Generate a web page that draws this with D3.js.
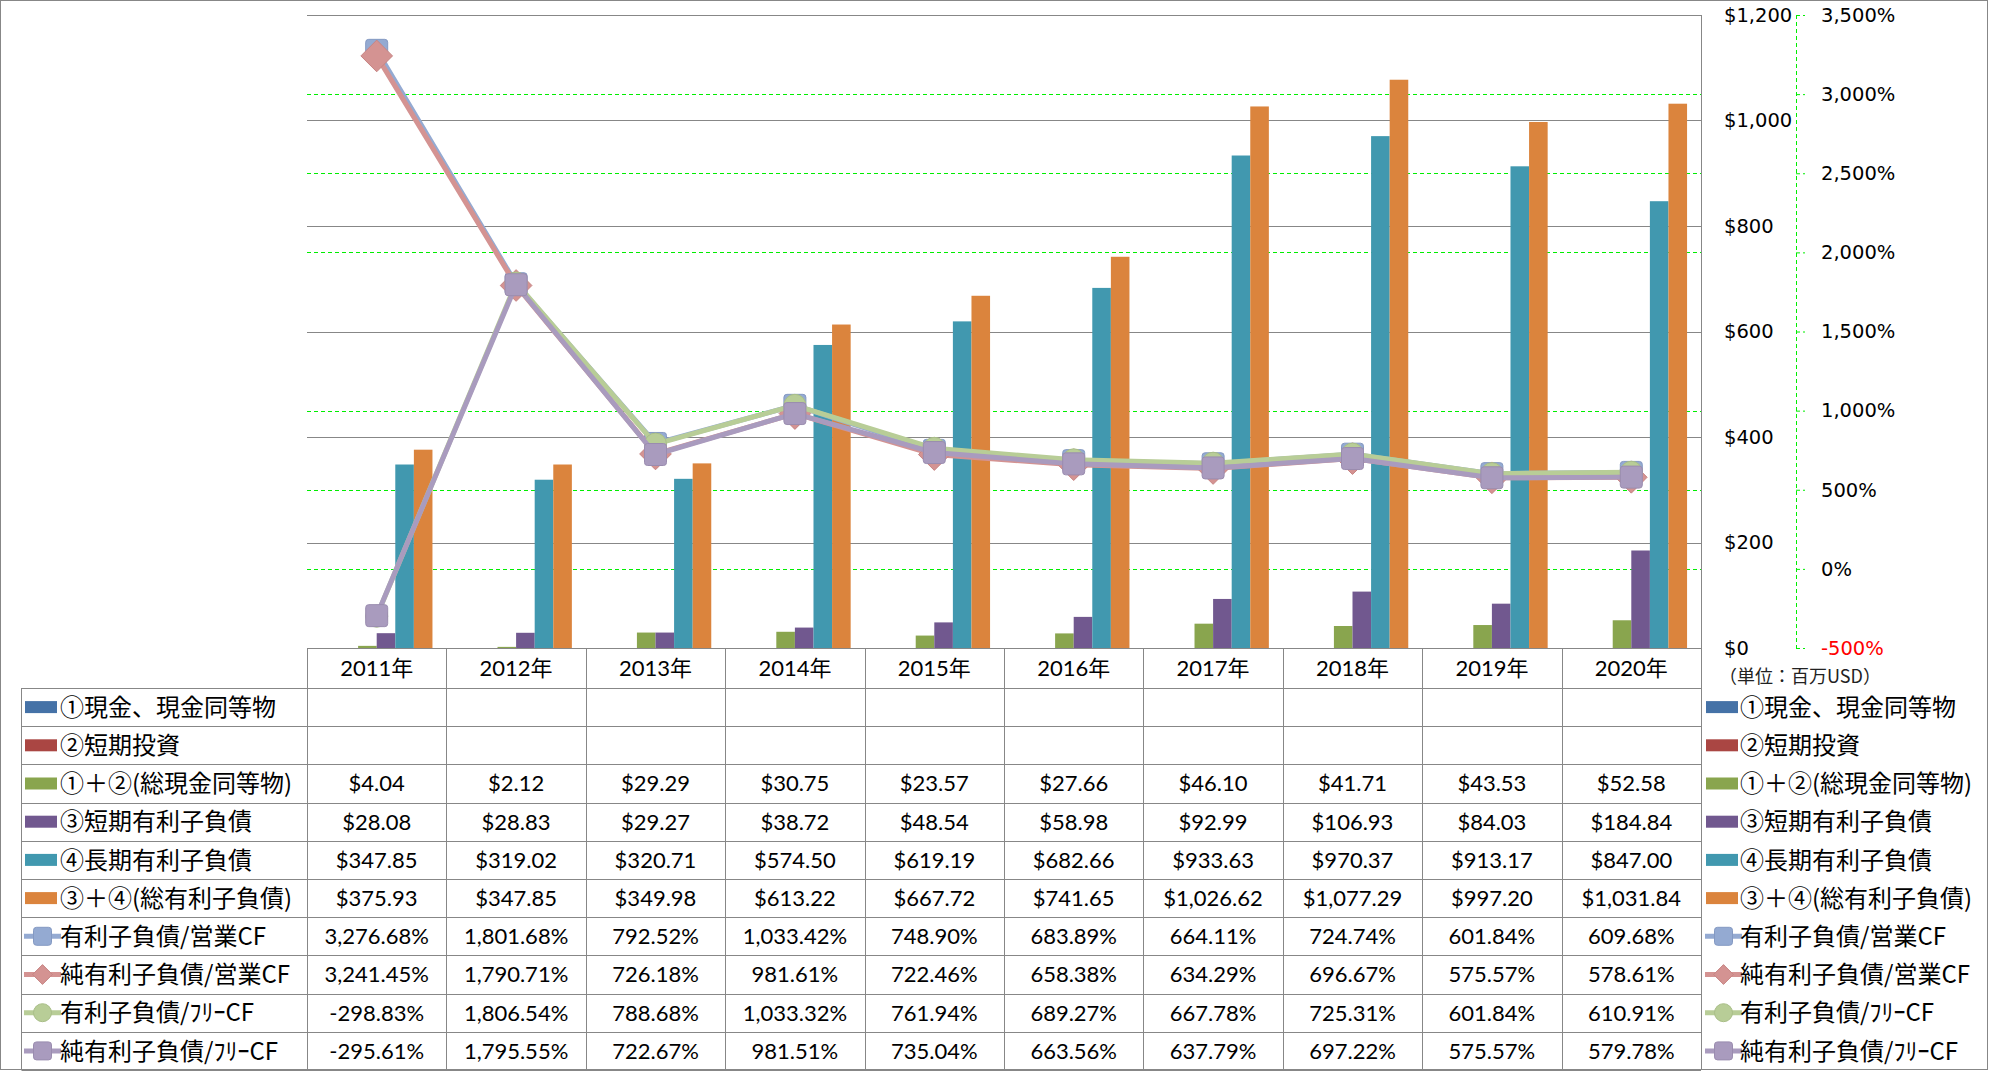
<!DOCTYPE html>
<html><head><meta charset="utf-8">
<script src="https://cdn.jsdelivr.net/npm/d3@7"></script>
<style>html,body{margin:0;padding:0;background:#fff;}svg{display:block;}</style>
</head><body>
<script>
// ---------- data ----------
const years = ["2011年","2012年","2013年","2014年","2015年","2016年","2017年","2018年","2019年","2020年"];
const cashEq       = [null,null,null,null,null,null,null,null,null,null];           // ①現金、現金同等物
const shortInv     = [null,null,null,null,null,null,null,null,null,null];           // ②短期投資
const totalCash    = [4.04,2.12,29.29,30.75,23.57,27.66,46.10,41.71,43.53,52.58];    // ①＋②
const shortDebt    = [28.08,28.83,29.27,38.72,48.54,58.98,92.99,106.93,84.03,184.84];// ③
const longDebt     = [347.85,319.02,320.71,574.50,619.19,682.66,933.63,970.37,913.17,847.00]; // ④
const totalDebt    = [375.93,347.85,349.98,613.22,667.72,741.65,1026.62,1077.29,997.20,1031.84]; // ③＋④
const debtOpCF     = [3276.68,1801.68,792.52,1033.42,748.90,683.89,664.11,724.74,601.84,609.68];
const netDebtOpCF  = [3241.45,1790.71,726.18,981.61,722.46,658.38,634.29,696.67,575.57,578.61];
const debtFCF      = [-298.83,1806.54,788.68,1033.32,761.94,689.27,667.78,725.31,601.84,610.91];
const netDebtFCF   = [-295.61,1795.55,722.67,981.51,735.04,663.56,637.79,697.22,575.57,579.78];
const leftTicks  = [0,200,400,600,800,1000,1200];
const rightTicks = [-500,0,500,1000,1500,2000,2500,3000,3500];
const unitLabel = "（単位：百万USD）";

const barSeries = [
  {name:"①現金、現金同等物", values:cashEq,    color:"#4572A7"},
  {name:"②短期投資",         values:shortInv,  color:"#AA4643"},
  {name:"①＋②(総現金同等物)", values:totalCash, color:"#89A54E"},
  {name:"③短期有利子負債",     values:shortDebt, color:"#71588F"},
  {name:"④長期有利子負債",     values:longDebt,  color:"#4198AF"},
  {name:"③＋④(総有利子負債)", values:totalDebt, color:"#DB843D"}
];
const lineSeries = [
  {name:"有利子負債/営業CF",   values:debtOpCF,    color:"#94AAD2", stroke:"#8499C2", shape:"square"},
  {name:"純有利子負債/営業CF", values:netDebtOpCF, color:"#D49392", stroke:"#C78483", shape:"diamond"},
  {name:"有利子負債/ﾌﾘｰCF",    values:debtFCF,     color:"#B8CD97", stroke:"#A9BE88", shape:"circle"},
  {name:"純有利子負債/ﾌﾘｰCF",  values:netDebtFCF,  color:"#A99BBE", stroke:"#9A8CAF", shape:"square"}
];

// ---------- layout ----------
const W = 1989, H = 1071;
const pL = 307, pR = 1701, pT = 15, pB = 648;
const tableTop = 688, tableBot = 1070, legL = 21.5;
const grid = "#878787";

const loc = d3.formatLocale({decimal:".", thousands:",", grouping:[3], currency:["$",""], minus:"-"});
const fmtD = loc.format("$,.2f");
const fmtP = v => loc.format(",.2f")(v) + "%";
const fmtAxP = v => loc.format(",.0f")(v) + "%";
const fmtAxD = loc.format("$,.0f");

const svg = d3.select("body").append("svg").attr("width", W).attr("height", H);

const x = d3.scaleBand().domain(years).range([pL, pR]).paddingInner(0).paddingOuter(0);
const xi = d3.scaleBand().domain(barSeries.map(s=>s.name)).range([0, x.bandwidth()]).paddingInner(0).paddingOuter(0.75);
const yL = d3.scaleLinear().domain([0,1200]).range([pB,pT]);
const yR = d3.scaleLinear().domain([-500,3500]).range([pB,pT]);
const crisp = v => Math.round(v) + 0.5;

// secondary (green dashed) gridlines
svg.append("g").selectAll("line").data(rightTicks).join("line")
  .attr("x1", pL).attr("x2", pR)
  .attr("y1", d=>crisp(yR(d))).attr("y2", d=>crisp(yR(d)))
  .attr("stroke", "#00EE00").attr("stroke-width", 1).attr("stroke-dasharray", "4,3");

// primary gridlines
svg.append("g").selectAll("line").data(leftTicks).join("line")
  .attr("x1", pL).attr("x2", pR)
  .attr("y1", d=>crisp(yL(d))).attr("y2", d=>crisp(yL(d)))
  .attr("stroke", grid).attr("stroke-width", 1);

// bars
barSeries.forEach(s => {
  svg.append("g").selectAll("rect").data(s.values.map((v,i)=>({v, yr:years[i]})).filter(d=>d.v!=null)).join("rect")
    .attr("x", d => x(d.yr) + xi(s.name))
    .attr("width", xi.bandwidth())
    .attr("y", d => yL(d.v))
    .attr("height", d => yL(0) - yL(d.v))
    .attr("fill", s.color);
});

// primary axis (right of plot)
const axL = svg.append("g").attr("transform", `translate(${pR},0)`)
  .call(d3.axisRight(yL).tickValues(leftTicks).tickSize(0).tickPadding(23).tickFormat(fmtAxD));
axL.select(".domain").remove();
axL.selectAll("text").attr("font-family","'DejaVu Sans', Verdana, sans-serif").attr("font-size", 19.5).attr("fill","#000");
svg.append("line").attr("x1", pR+0.5).attr("x2", pR+0.5).attr("y1", pT).attr("y2", tableBot).attr("stroke", grid);

// secondary axis
const axR = svg.append("g").attr("transform", `translate(1796,0)`)
  .call(d3.axisRight(yR).tickValues(rightTicks).tickSize(9).tickPadding(16).tickFormat(fmtAxP));
axR.select(".domain").attr("stroke","#00EE00").attr("stroke-dasharray","4,3").attr("d", `M0.5,${pT}V${pB}`);
axR.selectAll(".tick line").attr("stroke","#00EE00").attr("stroke-dasharray","4,3");
axR.selectAll("text").attr("font-family","'DejaVu Sans', Verdana, sans-serif").attr("font-size", 19.5)
  .attr("fill", d => d < 0 ? "#FF0000" : "#000");

svg.append("text").attr("x", 1719).attr("y", 683).text(unitLabel)
  .attr("font-family","'Noto Sans CJK JP', sans-serif").attr("font-size", 18).attr("fill","#222");

// ---------- data table ----------
const rowNames = barSeries.map(s=>s.name).concat(lineSeries.map(s=>s.name));
const rows = d3.scaleBand().domain(rowNames).range([tableTop, tableBot]);
const tg = svg.append("g");
tg.append("line").attr("x1", pL).attr("x2", pR).attr("y1", crisp(pB)).attr("y2", crisp(pB)).attr("stroke", grid);
const rowEdges = rowNames.map(n=>rows(n)).concat([tableBot]);
tg.selectAll("line.h").data(rowEdges).join("line").attr("class","h")
  .attr("x1", legL).attr("x2", pR).attr("y1", d=>crisp(d)).attr("y2", d=>crisp(d)).attr("stroke", grid);
const colEdges = years.map(y=>x(y)).concat([pR]);
tg.selectAll("line.v").data(colEdges).join("line").attr("class","v")
  .attr("x1", d=>crisp(d)).attr("x2", d=>crisp(d)).attr("y1", pB).attr("y2", tableBot).attr("stroke", grid);
tg.append("line").attr("x1", legL).attr("x2", legL).attr("y1", tableTop).attr("y2", tableBot).attr("stroke", grid);

tg.selectAll("text.yr").data(years).join("text").attr("class","yr")
  .attr("x", d => x(d) + x.bandwidth()/2).attr("y", (pB+tableTop)/2).attr("dy","0.36em")
  .attr("text-anchor","middle").attr("font-family","Lato, 'Noto Sans CJK JP', sans-serif").attr("font-size", 22).attr("fill","#000")
  .text(d=>d);

const allSeries = barSeries.map(s=>({...s, fmt:fmtD})).concat(lineSeries.map(s=>({...s, fmt:fmtP})));
allSeries.forEach(s => {
  tg.append("g").selectAll("text").data(s.values.map((v,i)=>({v, yr:years[i]})).filter(d=>d.v!=null)).join("text")
    .attr("x", d => x(d.yr) + x.bandwidth()/2)
    .attr("y", rows(s.name) + rows.bandwidth()/2).attr("dy","0.36em")
    .attr("text-anchor","middle").attr("font-family","Lato, sans-serif").attr("font-size", 22).attr("fill","#000")
    .text(d => s.fmt(d.v));
});

// ---------- markers ----------
function marker(g, shape, cx, cy, size, fill, stroke, dfac) {
  if (shape === "square") {
    g.append("rect").attr("x", cx-size/2).attr("y", cy-size/2).attr("width", size).attr("height", size)
      .attr("rx", 3).attr("fill", fill).attr("stroke", stroke).attr("stroke-width", 1);
  } else if (shape === "diamond") {
    const r = size*(dfac || 0.72);
    g.append("path").attr("d", `M${cx},${cy-r}L${cx+r},${cy}L${cx},${cy+r}L${cx-r},${cy}Z`)
      .attr("fill", fill).attr("stroke", stroke).attr("stroke-width", 1).attr("stroke-linejoin","round");
  } else {
    g.append("circle").attr("cx", cx).attr("cy", cy).attr("r", size/2).attr("fill", fill).attr("stroke", stroke).attr("stroke-width", 1);
  }
}

// ---------- lines ----------
const lineGen = d3.line().x(d => x(d.yr) + x.bandwidth()/2).y(d => yR(d.v));
lineSeries.forEach(s => {
  const pts = s.values.map((v,i)=>({v, yr:years[i]}));
  const g = svg.append("g");
  g.append("path").datum(pts).attr("d", lineGen).attr("fill","none").attr("stroke", s.color)
    .attr("stroke-width", 5).attr("stroke-linejoin","round").attr("stroke-linecap","round");
  pts.forEach(p => marker(g, s.shape, x(p.yr) + x.bandwidth()/2, yR(p.v), 22, s.color, s.stroke));
});

// ---------- legends ----------
function legendEntry(sx, tx, s, isLine, cy) {
  const g = svg.append("g");
  if (!isLine) {
    g.append("rect").attr("x", sx).attr("y", cy-6).attr("width", 32).attr("height", 12).attr("fill", s.color);
  } else {
    g.append("line").attr("x1", sx-1).attr("x2", sx+36).attr("y1", cy).attr("y2", cy).attr("stroke", s.color).attr("stroke-width", 5);
    marker(g, s.shape, sx+17.5, cy, 18, s.color, s.stroke, 0.55);
  }
  g.append("text").attr("x", tx).attr("y", cy).attr("dy","0.36em")
    .attr("font-family","'Noto Sans CJK JP', sans-serif").attr("font-size", 24).attr("fill","#000").text(s.name);
}
barSeries.forEach(s => {
  const cy = rows(s.name) + rows.bandwidth()/2;
  legendEntry(25, 60, s, false, cy);
  legendEntry(1706, 1740, s, false, cy);
});
lineSeries.forEach(s => {
  const cy = rows(s.name) + rows.bandwidth()/2;
  legendEntry(25, 60, s, true, cy);
  legendEntry(1706, 1740, s, true, cy);
});

// outer frame
svg.append("rect").attr("x", 0.5).attr("y", 0.5).attr("width", W-2).attr("height", H-2)
  .attr("fill","none").attr("stroke", grid);
</script>
</body></html>
